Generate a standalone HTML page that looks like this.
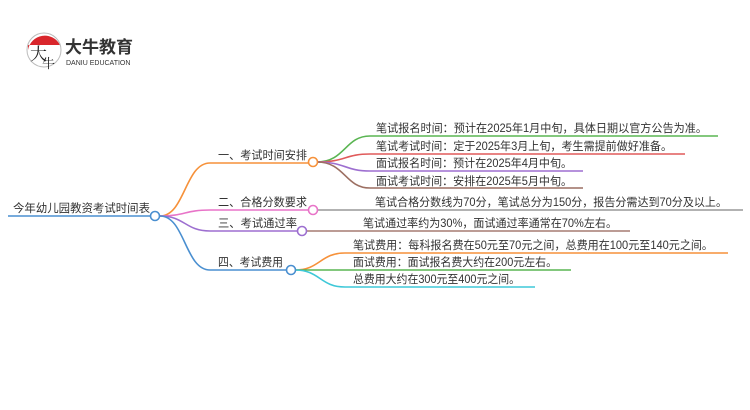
<!DOCTYPE html>
<html><head><meta charset="utf-8"><style>
html,body{margin:0;padding:0;background:#fff;}
svg{display:block;}
text{font-family:"Liberation Sans","Noto Sans CJK SC",sans-serif;font-size:11.5px;fill:#333;}
</style></head><body>
<svg width="750" height="410" viewBox="0 0 750 410" xmlns="http://www.w3.org/2000/svg">
<!-- logo -->
<path d="M28,50 A17,17 0 0 1 60,45 L28,45 Z" fill="#d9262c"/>
<circle cx="44" cy="50" r="17" fill="none" stroke="#bbb" stroke-width="1"/>
<text x="30" y="60" style="font-size:17px;fill:#222;font-family:'Noto Serif CJK SC',serif">大</text>
<text x="42" y="68" style="font-size:13px;fill:#222;font-family:'Noto Serif CJK SC',serif">牛</text>
<text x="65" y="53" style="font-size:17px;font-weight:bold;fill:#333">大牛教育</text>
<text x="66" y="65" style="font-size:7px;fill:#333">DANIU EDUCATION</text>

<g fill="none" stroke-width="1.6">
<path d="M8,216 H150" stroke="#4a8fd0"/>
<path d="M160,216 C185,216 185,163 210,163 H309" stroke="#f6913a"/>
<path d="M160,216 C185,216 185,210 210,210 H309" stroke="#e874c8"/>
<path d="M160,216 C185,216 185,231 210,231 H298" stroke="#9d6fd0"/>
<path d="M160,216 C185,216 185,270 210,270 H287" stroke="#4a8fd0"/>
<path d="M317,162 C345,162 345,136 370,136 H718" stroke="#5ab552"/>
<path d="M317,162 C345,162 345,154 370,154 H685" stroke="#e05a5a"/>
<path d="M317,162 C345,162 345,171 370,171 H583" stroke="#9d6fd0"/>
<path d="M317,162 C345,162 345,188 370,188 H583" stroke="#9c6f62"/>
<path d="M317,210 H743" stroke="#999"/>
<path d="M306,231 H630" stroke="#a57c72"/>
<path d="M295,270 C320,270 320,253 345,253 H728" stroke="#f6913a"/>
<path d="M295,270 H571" stroke="#5ab552"/>
<path d="M295,270 C320,270 320,287 345,287 H535" stroke="#3ec8d8"/>
</g>
<g fill="#fff" stroke-width="1.6">
<circle cx="155" cy="216" r="4.5" stroke="#4a8fd0"/>
<circle cx="313" cy="162" r="4.5" stroke="#f6913a"/>
<circle cx="313" cy="210" r="4.5" stroke="#e874c8"/>
<circle cx="302" cy="231" r="4.5" stroke="#9d6fd0"/>
<circle cx="291" cy="270" r="4.5" stroke="#4a8fd0"/>
</g>

<text x="13" y="212" textLength="137" lengthAdjust="spacingAndGlyphs">今年幼儿园教资考试时间表</text>
<text x="218" y="159" textLength="89" lengthAdjust="spacingAndGlyphs">一、考试时间安排</text>
<text x="218" y="206" textLength="89" lengthAdjust="spacingAndGlyphs">二、合格分数要求</text>
<text x="218" y="227" textLength="79" lengthAdjust="spacingAndGlyphs">三、考试通过率</text>
<text x="218" y="266" textLength="65" lengthAdjust="spacingAndGlyphs">四、考试费用</text>

<text x="376" y="132" textLength="331" lengthAdjust="spacingAndGlyphs">笔试报名时间：预计在2025年1月中旬，具体日期以官方公告为准。</text>
<text x="376" y="150" textLength="296" lengthAdjust="spacingAndGlyphs">笔试考试时间：定于2025年3月上旬，考生需提前做好准备。</text>
<text x="376" y="167" textLength="196" lengthAdjust="spacingAndGlyphs">面试报名时间：预计在2025年4月中旬。</text>
<text x="376" y="185" textLength="196" lengthAdjust="spacingAndGlyphs">面试考试时间：安排在2025年5月中旬。</text>
<text x="375" y="206" textLength="352" lengthAdjust="spacingAndGlyphs">笔试合格分数线为70分，笔试总分为150分，报告分需达到70分及以上。</text>
<text x="363" y="227" textLength="254" lengthAdjust="spacingAndGlyphs">笔试通过率约为30%，面试通过率通常在70%左右。</text>
<text x="353" y="249" textLength="360" lengthAdjust="spacingAndGlyphs">笔试费用：每科报名费在50元至70元之间，总费用在100元至140元之间。</text>
<text x="353" y="266" textLength="204" lengthAdjust="spacingAndGlyphs">面试费用：面试报名费大约在200元左右。</text>
<text x="353" y="283" textLength="167" lengthAdjust="spacingAndGlyphs">总费用大约在300元至400元之间。</text>
</svg>
</body></html>
